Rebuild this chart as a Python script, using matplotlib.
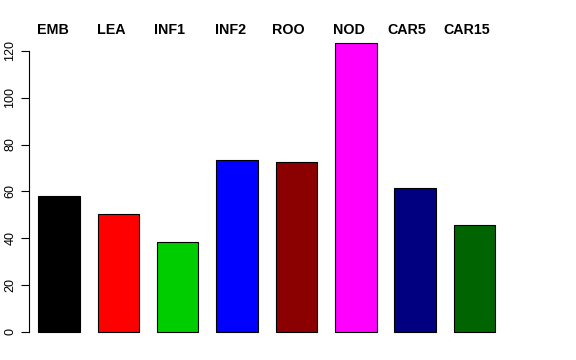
import matplotlib
matplotlib.use("Agg")
from matplotlib import pyplot as plt

plt.rcParams['font.family'] = ['Liberation Sans', 'DejaVu Sans']

tissues = ['EMB', 'LEA', 'INF1', 'INF2', 'ROO', 'NOD', 'CAR5', 'CAR15']
values = [57.9, 50.1, 38.5, 73.2, 72.5, 123.3, 61.6, 45.6]
colors = ['#000000', '#FF0000', '#00CD00', '#0000FF', '#8B0000', '#FF00FF', '#000080', '#006400']
# left edge of each header label, in pixels
label_x = [37, 97, 154, 215, 272, 333, 387, 443]

W, H = 576, 360
fig = plt.figure(figsize=(W / 100, H / 100), dpi=100)

px_per_unit = 2.34
y0 = 331.7
ymax = 128
ax_bottom = H - y0
ax_top = H - (y0 - ymax * px_per_unit)
ax_left, ax_right = 29, 545
ax = fig.add_axes([ax_left / W, ax_bottom / H, (ax_right - ax_left) / W, (ax_top - ax_bottom) / H])

pos = list(range(len(tissues)))
ax.bar(pos, values, width=0.7, color=colors, edgecolor='black', linewidth=0.8, clip_on=False)

pitch = 59.35
ax.set_xlim(-(59 - ax_left) / pitch, (ax_right - 59) / pitch)
ax.set_ylim(0, ymax)

for s in ['top', 'right', 'bottom']:
    ax.spines[s].set_visible(False)
ax.spines['left'].set_bounds(0, 120)
ax.spines['left'].set_linewidth(0.8)
ax.set_xticks([])
ax.set_yticks(range(0, 121, 20))
ax.tick_params(axis='y', length=6, width=0.8, labelsize=9, pad=3)
for t in ax.get_yticklabels():
    t.set_rotation(90)
    t.set_va('center')

for name, x in zip(tissues, label_x):
    fig.text(x / W, 1 - 34 / H, name, ha='left', va='baseline',
             fontsize=10.3, fontweight='bold')

fig.savefig('out.png', dpi=100)
